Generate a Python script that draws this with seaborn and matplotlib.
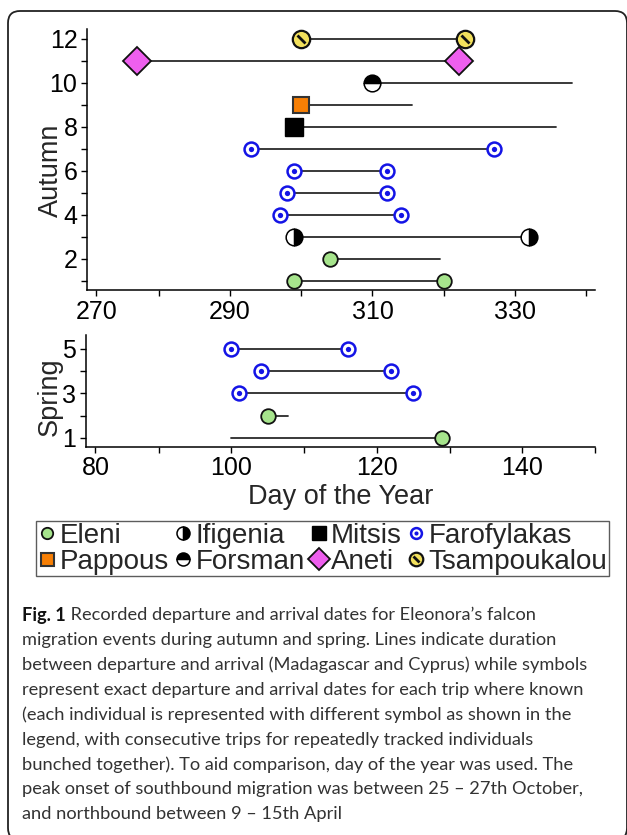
import numpy as np
import pandas as pd
import matplotlib
matplotlib.use('Agg')
import matplotlib.pyplot as plt
import seaborn as sns
from matplotlib.markers import MarkerStyle
from matplotlib.transforms import Affine2D
from matplotlib.patches import FancyBboxPatch
from matplotlib.lines import Line2D

# ---------------- data ----------------
autumn_trip = [1, 2, 3, 4, 5, 6, 7, 8, 9, 10, 11, 12]
autumn_bird = ['Eleni', 'Eleni', 'Ifigenia', 'Farofylakas', 'Farofylakas', 'Farofylakas',
               'Farofylakas', 'Mitsis', 'Pappous', 'Forsman', 'Aneti', 'Tsampoukalou']
autumn_start = [299, 304, 299, 297, 298, 299, 293, 299, 300, 310, 277, 300]
autumn_end = [320, 319.4, 332, 314, 312, 312, 327.1, 335.7, 315.6, 338, 322.1, 323]
autumn_start_known = [True] * 12
autumn_end_known = [True, False, True, True, True, True, True, False, False, False, True, True]

spring_trip = [1, 2, 3, 4, 5]
spring_bird = ['Eleni', 'Eleni', 'Farofylakas', 'Farofylakas', 'Farofylakas']
spring_start = [100, 105, 101, 104, 100]
spring_end = [129, 107.8, 125, 122, 116.1]
spring_start_known = [False, True, True, True, True]
spring_end_known = [True, False, True, True, True]

legend_order = ['Eleni', 'Pappous', 'Ifigenia', 'Forsman', 'Mitsis', 'Aneti',
                'Farofylakas', 'Tsampoukalou']

autumn_ticks = ['270', '290', '310', '330']
spring_ticks = ['80', '100', '120', '140']

caption_bold = 'Fig. 1'
caption_lines = [
    ' Recorded departure and arrival dates for Eleonora\u2019s falcon',
    'migration events during autumn and spring. Lines indicate duration',
    'between departure and arrival (Madagascar and Cyprus) while symbols',
    'represent exact departure and arrival dates for each trip where known',
    '(each individual is represented with different symbol as shown in the',
    'legend, with consecutive trips for repeatedly tracked individuals',
    'bunched together). To aid comparison, day of the year was used. The',
    'peak onset of southbound migration was between 25 \u2013 27th October,',
    'and northbound between 9 \u2013 15th April',
]

# ---------------- styles ----------------
BLUE = '#1414e6'
slash = MarkerStyle('_', transform=Affine2D().rotate_deg(-45))


def marker_layers(bird, scale=1.0):
    s = scale
    if bird == 'Eleni':
        return [dict(marker='o', ms=10.5 * s, mfc='#a6e48c', mec='#111111', mew=1.3)]
    if bird == 'Ifigenia':
        return [dict(marker='o', ms=12 * s, fillstyle='right', mfc='black',
                     markerfacecoloralt='white', mec='black', mew=1.1)]
    if bird == 'Mitsis':
        return [dict(marker='s', ms=13 * s, mfc='black', mec='black', mew=1)]
    if bird == 'Farofylakas':
        return [dict(marker='o', ms=10 * s, mfc='white', mec=BLUE, mew=1.8),
                dict(marker='o', ms=3.8 * s, mfc=BLUE, mec=BLUE, mew=0)]
    if bird == 'Pappous':
        return [dict(marker='s', ms=12 * s, mfc='#f77f05', mec='#333333', mew=1.5)]
    if bird == 'Forsman':
        return [dict(marker='o', ms=12 * s, fillstyle='top', mfc='black',
                     markerfacecoloralt='white', mec='black', mew=1.1)]
    if bird == 'Aneti':
        return [dict(marker='D', ms=14.5 * s, mfc='#ee5fee', mec='#111111', mew=1.3)]
    if bird == 'Tsampoukalou':
        return [dict(marker='o', ms=12.5 * s, mfc='#f2e05c', mec='#111111', mew=1.6),
                dict(marker=slash, ms=9 * s, mec='#111111', mew=2.0)]
    return []


sns.set_theme(style='ticks')
plt.rcParams['font.family'] = ['Liberation Sans', 'DejaVu Sans']

W, H = 627, 835
fig = plt.figure(figsize=(W / 100, H / 100), dpi=100)
fig.patch.set_facecolor('white')


def rect(l, r, top, bottom):
    return [l / W, 1 - bottom / H, (r - l) / W, (bottom - top) / H]


ax1 = fig.add_axes(rect(87.2, 595, 29.3, 290))
ax2 = fig.add_axes(rect(86, 595, 335, 446.7))


def draw_panel(ax, trip, bird, start, end, sk, ek):
    rows = []
    for t, b, s0, e0 in zip(trip, bird, start, end):
        rows.append(dict(trip=t, day=s0, bird=b))
        rows.append(dict(trip=t, day=e0, bird=b))
    df = pd.DataFrame(rows)
    sns.lineplot(data=df, x='day', y='trip', units='trip', estimator=None,
                 color='#2a2a2a', lw=1.3, ax=ax, legend=False, sort=False, zorder=2)
    for t, b, s0, e0, a, c in zip(trip, bird, start, end, sk, ek):
        for x, known in ((s0, a), (e0, c)):
            if known:
                for kw in marker_layers(b):
                    ax.plot([x], [t], linestyle='none', zorder=3, clip_on=False, **kw)


draw_panel(ax1, autumn_trip, autumn_bird, autumn_start, autumn_end,
           autumn_start_known, autumn_end_known)
draw_panel(ax2, spring_trip, spring_bird, spring_start, spring_end,
           spring_start_known, spring_end_known)

TICK_FS = 18
LAB_FS = 19.5

for ax in (ax1, ax2):
    sns.despine(ax=ax)
    for sp in ('left', 'bottom'):
        ax.spines[sp].set_linewidth(1.1)
        ax.spines[sp].set_color('black')
    ax.tick_params(which='both', direction='out', length=4, width=1.0, color='black',
                   labelsize=TICK_FS, pad=3, labelcolor='black')
    ax.set_facecolor('white')

ax1.set_xlim(270, 341.2)
ax1.set_ylim(0.58, 12.44)
ax1.set_xticks([271.3, 290, 310, 330])
ax1.set_xticklabels(autumn_ticks)
ax1.set_xticks([280, 300, 320, 340], minor=True)
ax1.set_yticks([2, 4, 6, 8, 10, 12])
ax1.set_yticks([1, 3, 5, 7, 9, 11], minor=True)
ax1.set_xlabel('')
ax1.set_ylabel('Autumn', fontsize=LAB_FS)
ax1.yaxis.set_label_coords(-0.045, 0.46)

ax2.set_xlim(80, 150)
ax2.set_ylim(0.6, 5.63)
ax2.set_xticks([81.3, 100, 120, 140])
ax2.set_xticklabels(spring_ticks)
ax2.set_xticks([90, 110, 130, 150], minor=True)
ax2.set_yticks([1, 3, 5])
ax2.set_yticks([2, 4], minor=True)
ax2.set_ylabel('Spring', fontsize=LAB_FS)
ax2.yaxis.set_label_coords(-0.046, 0.445)
ax2.set_xlabel('Day of the Year', fontsize=LAB_FS)
ax2.xaxis.set_label_coords(0.5, -0.33)

# ---------------- legend ----------------
handles = []
for b in legend_order:
    layers = marker_layers(b, scale=0.78)
    hs = tuple(Line2D([], [], linestyle='none', **kw) for kw in layers)
    handles.append(hs if len(hs) > 1 else hs[0])
leg = fig.legend(handles, legend_order, ncol=4, loc='center',
                 bbox_to_anchor=((36.8 + 608) / 2 / W, 1 - (521 + 576.7) / 2 / H),
                 fontsize=20, frameon=True, fancybox=False, edgecolor='#333333',
                 borderpad=0.05, labelspacing=0.0, handlelength=0.7,
                 handletextpad=0.1, columnspacing=0.15, borderaxespad=0,
                 handleheight=0.7)
leg.get_frame().set_linewidth(1.0)

# ---------------- frame ----------------
frame = FancyBboxPatch((8 / 100, (H - 840) / 100), (627 - 8) / 100, (840 - 11) / 100,
                       boxstyle='round,pad=0,rounding_size=0.12',
                       transform=fig.dpi_scale_trans, fill=False,
                       edgecolor='#222222', linewidth=1.3, clip_on=False)
fig.patches.append(frame)

# ---------------- caption ----------------
cap_font = ['Lato', 'DejaVu Sans']
renderer = fig.canvas.get_renderer()
probe = fig.text(0, 0, caption_lines[2], fontsize=12, family=cap_font)
wprobe = probe.get_window_extent(renderer).width
probe.remove()
cap_fs = 12 * 564 / wprobe

x0 = 22 / W
y_first = 615
dy = 24.9
bt = fig.text(x0, 1 - y_first / H, caption_bold, fontsize=cap_fs, family=cap_font,
              fontweight='bold', va='center', ha='left', color='#111111')
bw = bt.get_window_extent(renderer).width
fig.text(x0 + bw / W, 1 - y_first / H, caption_lines[0], fontsize=cap_fs, family=cap_font,
         va='center', ha='left', color='#333333')
for i, line in enumerate(caption_lines[1:], start=1):
    fig.text(x0, 1 - (y_first + i * dy) / H, line, fontsize=cap_fs, family=cap_font,
             va='center', ha='left', color='#333333')

fig.savefig('out.png', dpi=100, facecolor='white')
